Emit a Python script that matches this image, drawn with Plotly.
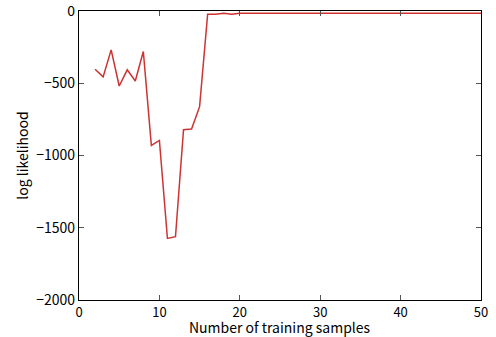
import plotly.graph_objects as go

x_vals = list(range(2, 51))
y_head = [-403, -456, -269, -519, -407, -484, -280, -930, -896, -1574, -1562,
          -822, -817, -662, -22, -22, -15, -22]
y_tail = [-15] * (len(x_vals) - len(y_head))
y_vals = y_head + y_tail

x_ticks = [0, 10, 20, 30, 40, 50]
y_ticks = [-2000, -1500, -1000, -500, 0]
y_tick_text = ["\u22122000", "\u22121500", "\u22121000", "\u2212500", "0"]

fig = go.Figure()
fig.add_trace(go.Scatter(x=x_vals, y=y_vals, mode="lines",
                         line=dict(color="#cc3333", width=1.5)))

font = "Noto Sans CJK JP, Liberation Sans, sans-serif"
fig.update_layout(
    width=496, height=337,
    margin=dict(l=79, r=15, t=11, b=37, autoexpand=False),
    paper_bgcolor="white", plot_bgcolor="white",
    showlegend=False,
    font=dict(family=font, size=14, color="black"),
)
fig.update_xaxes(
    range=[0, 50], tickvals=x_ticks, ticks="inside", ticklen=5, tickcolor="#555",
    showline=True, linecolor="black", linewidth=1.2, mirror="ticks",
    showgrid=False, zeroline=False, automargin=False,
    ticklabeloverflow="allow",
    tickfont=dict(size=13),
)
fig.update_yaxes(
    range=[-2000, 0], tickvals=y_ticks, ticktext=y_tick_text, ticks="inside",
    ticklen=5, tickcolor="#555",
    showline=True, linecolor="black", linewidth=1.2, mirror="ticks",
    showgrid=False, zeroline=False, automargin=False,
    ticklabeloverflow="allow",
    title=dict(text="log likelihood", standoff=4, font=dict(size=14)),
    tickfont=dict(size=14),
)
fig.add_annotation(
    text="Number of training samples", xref="paper", yref="paper",
    x=0.5, y=0, xanchor="center", yanchor="top", yshift=-16,
    showarrow=False, font=dict(size=14), borderpad=0,
)
fig.write_html(
    "out.html",
    config={"displayModeBar": False},
    post_script="document.body.style.margin='0';",
)
